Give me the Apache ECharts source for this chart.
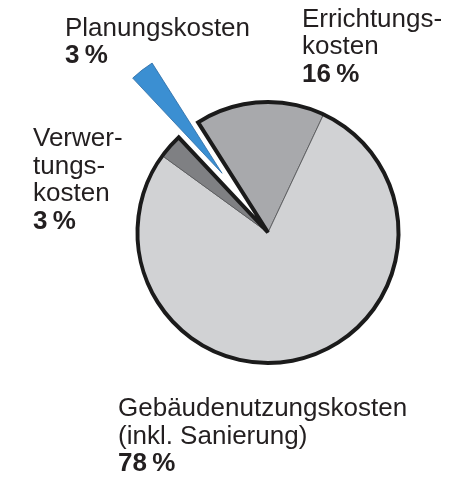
<!DOCTYPE html>
<html>
<head>
<meta charset="utf-8">
<style>
  html, body { margin: 0; padding: 0; background: #ffffff; }
  #chart { width: 472px; height: 478px; }
</style>
<script src="https://cdn.jsdelivr.net/npm/echarts@6/dist/echarts.min.js"></script>
</head>
<body>
<div id="chart"></div>
<script>
// Lebenszykluskosten eines Gebäudes, Anteile in Prozent
const categories = [
  'Errichtungskosten',
  'Gebäudenutzungskosten',
  'Verwertungskosten',
  'Planungskosten'
];
const labelTexts = [
  'Errichtungs-\nkosten',
  'Gebäudenutzungskosten\n(inkl. Sanierung)',
  'Verwer-\ntungs-\nkosten',
  'Planungskosten'
];
const shares = [16, 78, 3, 3];

// Slice colours and label anchors (top-left corner of each text block)
const sliceColors = ['#a8a9ac', '#d1d2d4', '#7f8083', '#3b8fd2'];
const labelAnchors = [[302, 6], [118, 395.5], [33, 125.5], [65, 15]];
const highlighted = 3; // slice pulled out of the pie

const center = [268, 232.5];
const radius = 130.5;
const startAngle = 122.4;

const fillData = shares.map((v, i) => {
  const item = {
    name: categories[i],
    value: v,
    itemStyle: {
      color: sliceColors[i],
      borderColor: i === highlighted ? '#2a6aa3' : '#5a5b5e',
      borderWidth: i === highlighted ? 0.8 : 0.9
    },
    select: { itemStyle: { color: sliceColors[i], borderColor: '#2a6aa3', borderWidth: 0.8 } }
  };
  if (i === highlighted) item.selected = true;
  return item;
});

// Outline around the remaining slices, leaving the gap open
const restTotal = shares.reduce((s, v, i) => i === highlighted ? s : s + v, 0);
const outlineData = [
  { name: 'rest', value: restTotal,
    itemStyle: { color: 'rgba(0,0,0,0)', borderColor: '#1b1b1b', borderWidth: 4, borderJoin: 'miter', borderMiterLimit: 10 } },
  { name: 'gap', value: shares[highlighted],
    itemStyle: { color: 'rgba(0,0,0,0)', borderWidth: 0 } }
];

// Invisible copy of the slices that only carries the text labels
const labelData = shares.map((v, i) => ({
  name: categories[i],
  value: v,
  itemStyle: { color: 'rgba(0,0,0,0)', borderWidth: 0 }
}));

const textStyle = { fontFamily: 'Liberation Sans', fontSize: 26, color: '#231f20', lineHeight: 27.5 };

const chart = echarts.init(document.getElementById('chart'), null, { renderer: 'canvas' });
chart.setOption({
  animation: false,
  backgroundColor: '#ffffff',
  series: [
    {
      type: 'pie',
      center: center,
      radius: [0, radius],
      startAngle: startAngle,
      clockwise: true,
      selectedMode: 'single',
      selectedOffset: 75,
      emphasis: { disabled: true },
      label: { show: false },
      labelLine: { show: false },
      data: fillData
    },
    {
      type: 'pie',
      center: center,
      radius: [0, radius],
      startAngle: startAngle,
      clockwise: true,
      silent: true,
      emphasis: { disabled: true },
      label: { show: false },
      labelLine: { show: false },
      data: outlineData
    },
    {
      type: 'pie',
      center: center,
      radius: [0, radius],
      startAngle: startAngle,
      clockwise: true,
      silent: true,
      z: 3,
      avoidLabelOverlap: false,
      emphasis: { disabled: true },
      data: labelData,
      label: {
        show: true,
        formatter: p => '{n|' + labelTexts[p.dataIndex] + '}\n{p|' + p.value + '\u2009%}',
        rich: {
          n: Object.assign({}, textStyle),
          p: Object.assign({ fontWeight: 'bold' }, textStyle)
        }
      },
      labelLine: { show: false },
      labelLayout: p => ({
        x: labelAnchors[p.dataIndex][0],
        y: labelAnchors[p.dataIndex][1],
        align: 'left',
        verticalAlign: 'top'
      })
    }
  ]
});
</script>
</body>
</html>
